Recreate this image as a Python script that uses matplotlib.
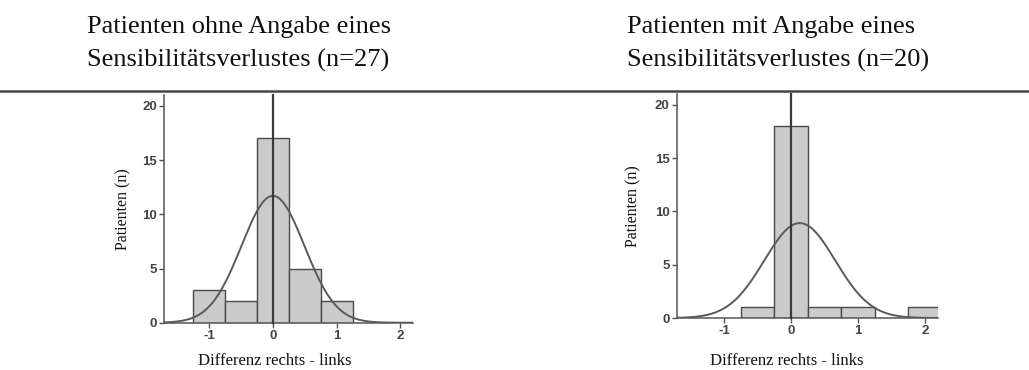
import numpy as np
import matplotlib
matplotlib.use("Agg")
import matplotlib.pyplot as plt
from matplotlib.lines import Line2D

# Histogram bins (centres) and patient counts per group
left_centers = [-1.0, -0.5, 0.0, 0.5, 1.0]
left_counts = [3, 2, 17, 5, 2]
right_centers = [-0.5, 0.0, 0.5, 1.0, 2.0]
right_counts = [1, 18, 1, 1, 1]
bin_width = 0.5

# Fitted normal curves: mean, standard deviation, peak height
left_fit = (0.0, 0.494, 11.7)
right_fit = (0.13, 0.53, 8.9)

title_lines = [["Patienten ohne Angabe eines", "Sensibilitätsverlustes (n=27)"],
               ["Patienten mit Angabe eines", "Sensibilitätsverlustes (n=20)"]]
xlabel = "Differenz rechts - links"
ylabel = "Patienten (n)"
xticks = [-1, 0, 1, 2]
yticks = [0, 5, 10, 15, 20]

SERIF = ["Liberation Serif", "DejaVu Serif"]
SANS = ["Liberation Sans", "DejaVu Sans"]
DARK = "#555555"

W, H = 1029, 370
fig = plt.figure(figsize=(W / 100, H / 100), dpi=100)
fig.patch.set_facecolor("white")


def px(x, y):
    """Pixel position (from top-left) to figure fraction."""
    return x / W, 1 - y / H


def panel(rect, centers, counts, fit, ylabel_x, xlabel_xy):
    ax = fig.add_axes(rect)
    ax.bar(centers, counts, width=bin_width, color="#cbcbcb",
           edgecolor="#4a4a4a", linewidth=1.0, zorder=2)
    mu, sd, peak = fit
    xs = np.linspace(-1.7, 2.2, 400)
    ax.plot(xs, peak * np.exp(-(xs - mu) ** 2 / (2 * sd ** 2)),
            color="#5a5a5a", lw=1.4, zorder=3)
    ax.axvline(0, color="#3a3a3a", lw=1.6, zorder=4, clip_on=False)
    ax.set_xlim(-1.71, 2.2)
    ax.set_ylim(0, 21)
    ax.set_xticks(xticks)
    ax.set_yticks(yticks)
    ax.set_xticklabels([str(t) for t in xticks])
    ax.set_yticklabels([str(t) for t in yticks])
    for s in ("top", "right"):
        ax.spines[s].set_visible(False)
    for s in ("left", "bottom"):
        ax.spines[s].set_color(DARK)
        ax.spines[s].set_linewidth(1.1)
    ax.tick_params(length=3.5, width=1, color=DARK, pad=1.5,
                   labelsize=9.5, labelcolor="#444444")
    for lab in ax.get_xticklabels() + ax.get_yticklabels():
        lab.set_fontfamily(SANS)
        lab.set_fontweight("bold")
    ax.set_facecolor("white")
    x0, y0, w, h = rect
    fig.text(ylabel_x, y0 + h * 0.5, ylabel, rotation=90, ha="center",
             va="center", fontsize=11.5, family=SERIF, color="#111111")
    fig.text(*xlabel_xy, xlabel, ha="center", va="center",
             fontsize=12, family=SERIF, color="#111111")
    return ax


panel([0.1594, 0.1278, 0.2420, 0.6154], left_centers, left_counts,
      left_fit, 123 / W, px(275, 361))
panel([0.6576, 0.1405, 0.2542, 0.6054], right_centers, right_counts,
      right_fit, 633 / W, px(787, 361))

# Group titles and separator rule
for x0, lines in zip([87, 627], title_lines):
    for yb, line in zip([33, 67], lines):
        fig.text(*px(x0, yb), line, ha="left", va="baseline",
                 fontsize=19, family=SERIF, color="#111111")
fig.add_artist(Line2D([0, 1], [1 - 90.5 / H] * 2, color="#444444",
                      lw=1.8, transform=fig.transFigure))

fig.savefig("out.png", dpi=100, facecolor="white")
